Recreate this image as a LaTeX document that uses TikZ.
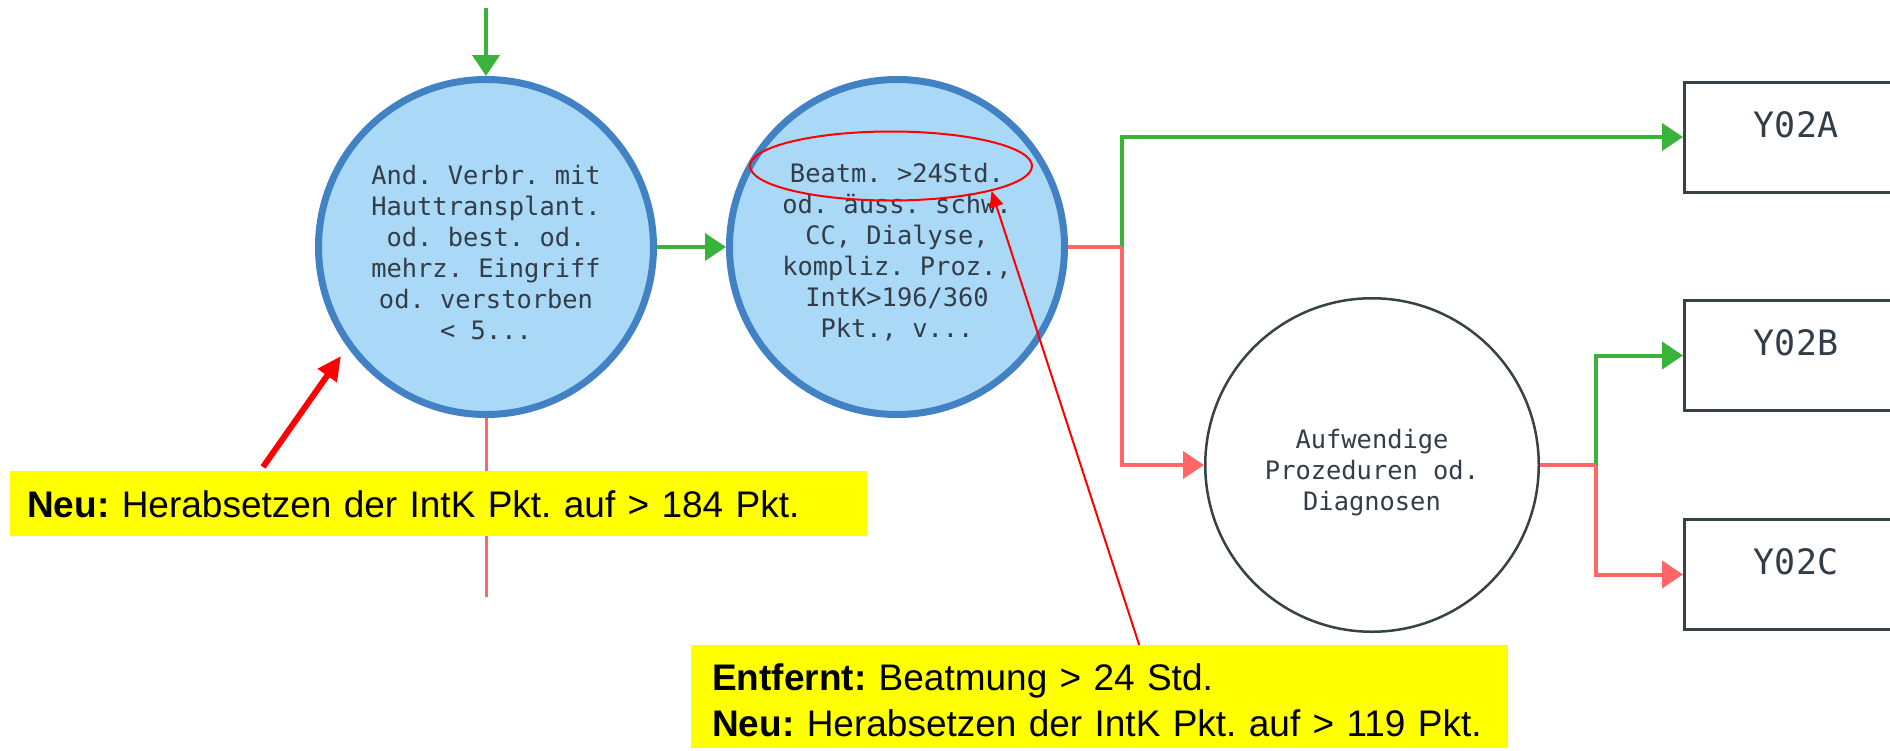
\documentclass[tikz,border=0pt]{standalone}
\usepackage{fontspec}
\setmainfont{Liberation Sans}
\newfontfamily\monofam{DejaVu Sans Mono}
\usetikzlibrary{arrows.meta,shapes.geometric,calc}
\definecolor{cgreen}{RGB}{58,179,58}
\definecolor{cred}{RGB}{255,102,102}
\definecolor{cblue}{RGB}{66,130,196}
\definecolor{cfill}{RGB}{170,216,247}
\definecolor{ctext}{RGB}{51,61,71}
\definecolor{cbox}{RGB}{55,65,72}
\definecolor{cyel}{RGB}{255,255,0}
\newcommand\topstrut[1]{\rule{0pt}{#1}}
\begin{document}
\frenchspacing
\begin{tikzpicture}[x=1pt,y=-1pt,
  decision/.style={circle, draw=cblue, line width=7pt, fill=cfill, minimum size=335pt, inner sep=0pt, align=center, text=ctext, font=\monofam\fontsize{25.4}{31}\selectfont\frenchspacing},
  plain/.style={circle, draw=cbox, line width=2.5pt, fill=white, minimum size=333.5pt, inner sep=0pt, align=center, text=ctext, font=\monofam\fontsize{25.4}{31}\selectfont\frenchspacing},
  leaf/.style={rectangle, draw=cbox, line width=3pt, minimum width=223pt, minimum height=110pt, inner sep=0pt, text=ctext, font=\monofam\fontsize{35}{42}\selectfont, text height=26pt, text depth=26pt},
  yes/.style={draw=cgreen, line width=4pt, -{Triangle[length=21pt,width=27pt]}},
  no/.style={draw=cred, line width=4pt, -{Triangle[length=21pt,width=27pt]}},
  noline/.style={draw=cred, line width=4pt},
  note/.style={fill=cyel, inner sep=0pt, font=\fontsize{37}{46}\selectfont\frenchspacing, align=left, anchor=north west},
]
\fill[white] (0,0) rectangle (1890,750);
\clip (0,0) rectangle (1890,750);

% decision nodes
\node[decision] (c1) at (486,247) {\topstrut{29.5pt}And. Verbr. mit\\Hauttransplant.\\od. best. od.\\mehrz. Eingriff\\od. verstorben\\< 5...};
\node[decision] (c2) at (897,247) {\topstrut{29pt}Beatm. >24Std.\\od. äuss. schw.\\CC, Dialyse,\\kompliz. Proz.,\\IntK>196/360\\Pkt., v...};
\node[plain] (c3) at (1372,465) {\topstrut{34pt}Aufwendige\\Prozeduren od.\\Diagnosen};

% leaves
\node[leaf] (ya) at (1796,137) {Y02A};
\node[leaf] (yb) at (1796,355.5) {Y02B};
\node[leaf] (yc) at (1796,574.5) {Y02C};

% connectors
\coordinate (start) at (486,8);
\draw[yes] (start) -- (c1.north);
\draw[yes] (c1.east) -- (c2.west);
\coordinate (j1) at (1122,247);
\draw[yes] (j1) |- (ya.west);
\draw[noline] (c2.east) -- (j1);
\draw[no] (j1) |- (c3.west);
\coordinate (j2) at (1596,465);
\draw[yes] (j2) |- (yb.west);
\draw[noline] (c3.east) -- (j2);
\draw[no] (j2) |- (yc.west);
\coordinate (down) at (486,597);
\draw[cred, line width=3pt] (c1.south) -- (down);

% annotations
\node[note, minimum width=857pt, minimum height=65pt, text width=823pt, inner xsep=17pt, text height=27pt, text depth=0pt] (n1) at (10,471) {\textbf{Neu:} Herabsetzen der IntK Pkt. auf > 184 Pkt.};
\node[note, minimum height=103pt, text width=775pt, inner xsep=21pt, text height=27pt, text depth=40pt] (n2) at (691,645) {\textbf{Entfernt:} Beatmung > 24 Std.\\\textbf{Neu:} Herabsetzen der IntK Pkt. auf > 119 Pkt.};

\node[ellipse, draw=red, line width=2pt, minimum width=282pt, minimum height=69pt, inner sep=0pt] (ell) at (891,166) {};
\draw[red, line width=2pt, -{Triangle[length=16pt,width=14pt]}] ($(n2.north)+(39.5,0)$) -- (ell.-14);
\draw[red, line width=6pt, -{Triangle[length=24pt,width=22pt]}] ($(n1.north west)+(253,-4)$) -- (341,356);
\end{tikzpicture}
\end{document}
